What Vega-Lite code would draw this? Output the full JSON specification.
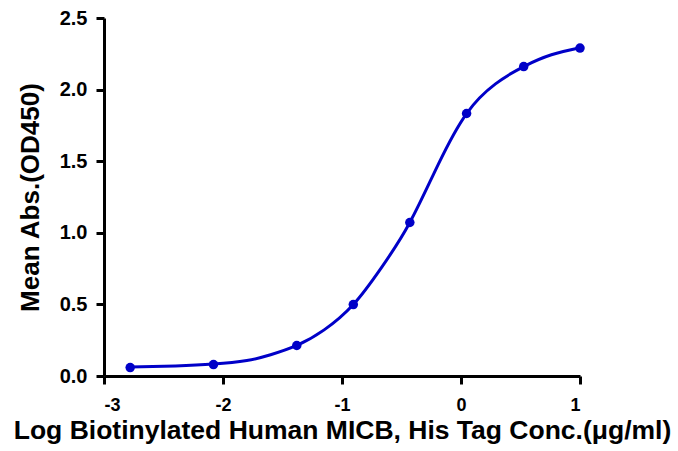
{
  "$schema": "https://vega.github.io/schema/vega-lite/v6.json",
  "autosize": "none",
  "width": 476,
  "height": 358,
  "padding": {"left": 104, "top": 18, "right": 98, "bottom": 75},
  "background": "white",
  "config": {
    "view": {"stroke": null},
    "axis": {
      "grid": false,
      "domainColor": "black",
      "domainWidth": 3,
      "tickColor": "black",
      "tickWidth": 3,
      "tickSize": 8,
      "labelFont": "Liberation Sans",
      "labelFontWeight": "bold",
      "labelColor": "black",
      "titleFont": "Liberation Sans",
      "titleFontWeight": "bold",
      "titleColor": "black"
    }
  },
  "datasets": {
    "points": [
      {"x": -2.78, "y": 0.059},
      {"x": -2.08, "y": 0.08},
      {"x": -1.38, "y": 0.213},
      {"x": -0.905, "y": 0.499},
      {"x": -0.43, "y": 1.072},
      {"x": 0.047, "y": 1.833},
      {"x": 0.527, "y": 2.161},
      {"x": 1.0, "y": 2.29}
    ],
    "curve": [
      {"x": -2.78, "y": 0.062},
      {"x": -2.4, "y": 0.07},
      {"x": -2.08, "y": 0.083},
      {"x": -1.8, "y": 0.108},
      {"x": -1.6, "y": 0.148},
      {"x": -1.38, "y": 0.213},
      {"x": -1.15, "y": 0.322},
      {"x": -0.905, "y": 0.499},
      {"x": -0.67, "y": 0.755},
      {"x": -0.43, "y": 1.072},
      {"x": -0.19, "y": 1.48},
      {"x": 0.047, "y": 1.833},
      {"x": 0.29, "y": 2.04},
      {"x": 0.527, "y": 2.161},
      {"x": 0.76, "y": 2.243},
      {"x": 1.0, "y": 2.292}
    ]
  },
  "layer": [
    {
      "data": {"name": "curve"},
      "mark": {"type": "line", "color": "#0000c8", "strokeWidth": 3, "interpolate": "natural"},
      "encoding": {
        "x": {
          "field": "x", "type": "quantitative",
          "scale": {"domain": [-3, 1], "nice": false, "zero": false},
          "axis": {
            "values": [-3, -2, -1, 0, 1],
            "labelExpr": "datum.value < 0 ? '-' + abs(datum.value) : '' + datum.value",
            "labelFontSize": 18,
            "labelPadding": 12,
            "title": "Log Biotinylated Human MICB, His Tag Conc.(μg/ml)",
            "titleFontSize": 26.5,
            "titlePadding": 3
          }
        },
        "y": {
          "field": "y", "type": "quantitative",
          "scale": {"domain": [0, 2.5], "nice": false},
          "axis": {
            "values": [0, 0.5, 1, 1.5, 2, 2.5],
            "format": ".1f",
            "labelFontSize": 20,
            "labelPadding": 9,
            "title": "Mean Abs.(OD450)",
            "titleFontSize": 26,
            "titlePadding": 16
          }
        }
      }
    },
    {
      "data": {"name": "points"},
      "mark": {"type": "circle", "color": "#0000c8", "opacity": 1, "size": 90},
      "encoding": {
        "x": {"field": "x", "type": "quantitative"},
        "y": {"field": "y", "type": "quantitative"}
      }
    }
  ]
}
